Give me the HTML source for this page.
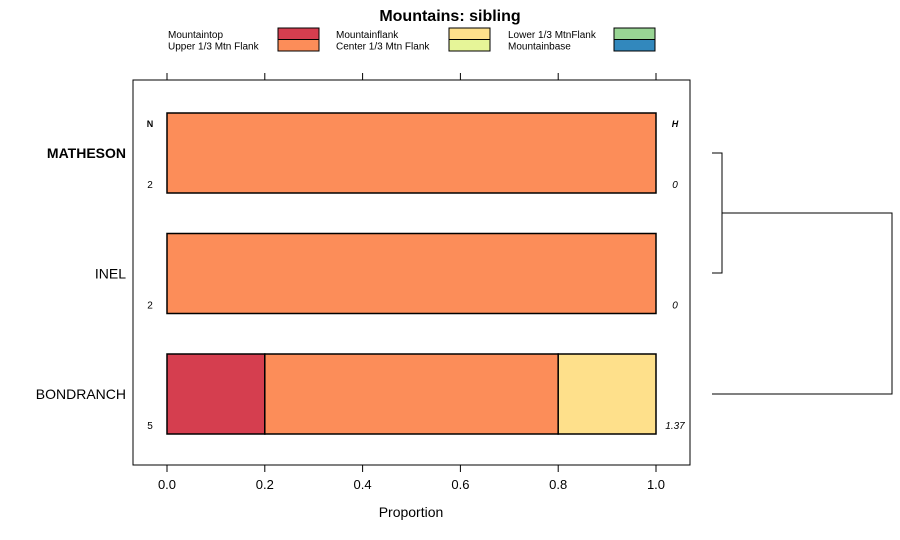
<!DOCTYPE html>
<html><head><meta charset="utf-8"><style>
body{margin:0;background:#fff;font-family:"Liberation Sans",sans-serif}
svg{display:block}
</style></head><body>
<svg id="chart" width="900" height="540" xmlns="http://www.w3.org/2000/svg" font-family="Liberation Sans, sans-serif">
<text x="450" y="21" text-anchor="middle" font-size="16" font-weight="bold">Mountains: sibling</text>
<g id="legend"></g>
<rect x="133" y="80" width="557" height="385" fill="none" stroke="#000"/>
<g id="axes"></g>
<g id="bars"></g>
<text x="150" y="127" font-size="9" font-weight="bold" text-anchor="middle">N</text>
<text x="675" y="127" font-size="9" font-weight="bold" font-style="italic" text-anchor="middle">H</text>
<text x="411" y="517" font-size="14" text-anchor="middle">Proportion</text>
<g fill="none" stroke="#000">
<path d="M712 153H722V273H712M722 213H892V394H712"/>
</g>
</svg>
<script>
const categories=["Mountaintop","Upper 1/3 Mtn Flank","Mountainflank","Center 1/3 Mtn Flank","Lower 1/3 MtnFlank","Mountainbase"];
const colors=["#D53E4F","#FC8D59","#FEE08B","#E6F598","#99D594","#3288BD"];
const sites=["MATHESON","INEL","BONDRANCH"];
const counts=[2,2,5];
const hValues=["0","0","1.37"];
const matheson=[0,1,0,0,0,0];
const inel=[0,1,0,0,0,0];
const bondranch=[0.2,0.6,0.2,0,0,0];
const series=[matheson,inel,bondranch];
const xTicks=[0,0.2,0.4,0.6,0.8,1.0];
const NS="http://www.w3.org/2000/svg";
const x=v=>167+v*489;
const yc=i=>153+i*120.5;
function mk(tag,attrs,parent,text){const e=document.createElementNS(NS,tag);for(const k in attrs)e.setAttribute(k,attrs[k]);if(text!==undefined)e.textContent=text;parent.appendChild(e);return e;}
const axes=document.getElementById('axes');
xTicks.forEach(t=>{
 const b=mk('line',{x1:x(t),x2:x(t),y1:465,y2:472,stroke:'#000'},axes);
 
 
 const tp=mk('line',{x1:x(t),x2:x(t),y1:73,y2:80,stroke:'#000'},axes);
 
 
 const l=mk('text',{x:x(t),y:489,'font-size':13,'text-anchor':'middle'},axes,t.toFixed(1));
 
 
});
const bars=document.getElementById('bars');
series.forEach((vals,i)=>{
 const cy=yc(i);let cum=0;
 vals.forEach((v,j)=>{ if(v<=0)return;
  const r=mk('rect',{x:x(cum),y:cy-40,width:x(cum+v)-x(cum),height:80,fill:colors[j],stroke:'#000','stroke-width':1.5},bars);
  
  
  cum+=v;});
 const s=mk('text',{x:126,y:cy+5,'font-size':14,'text-anchor':'end','font-weight':i===0?'bold':'normal'},bars,sites[i]);
 
 
 const n=mk('text',{x:150,y:cy+35,'font-size':10,'text-anchor':'middle'},bars,String(counts[i]));
 
 
 const h=mk('text',{x:675,y:cy+35,'font-size':10,'font-style':'italic','text-anchor':'middle'},bars,hValues[i]);
 
 
});
const lg=document.getElementById('legend');
const tx=[168,336,508],bx=[278,449,614];
categories.forEach((c,k)=>{
 const col=Math.floor(k/2),row=k%2;
 const t=mk('text',{x:tx[col],y:38+row*11.5,'font-size':10},lg,c);
 
 
 const r=mk('rect',{x:bx[col],y:28+row*11.5,width:41,height:11.5,fill:colors[k],stroke:'#000'},lg);
 
 
});
</script>
</body></html>
